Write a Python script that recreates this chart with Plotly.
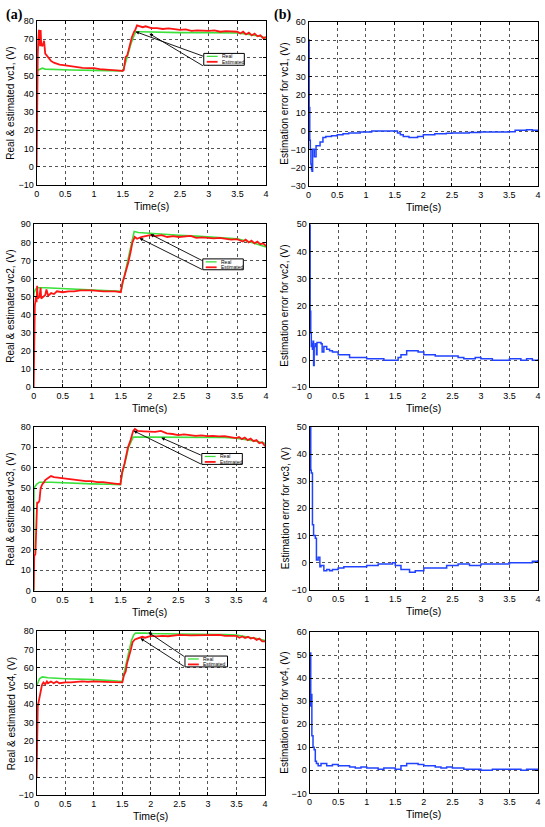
import plotly.graph_objects as go

# ---------------- data (time s, volts) ----------------
vc1_real = [(0,51),(0.005,52),(0.03,53),(0.1,54),(0.15,53.5),(0.3,53.3),(0.6,53),(1.0,52.8),(1.3,52.5),(1.5,52.5),
            (1.55,57),(1.6,63),(1.65,68),(1.7,72),(1.73,74),(1.8,74),(2.0,73.8),(2.5,73.5),(3.0,73.5),(3.5,73.3),
            (3.7,72.5),(3.9,71.5),(4.0,70.5)]
vc1_est = [(0,0),(0.01,45),(0.02,62),(0.03,70),(0.04,75),(0.05,72),(0.06,66),(0.07,75),(0.08,67),(0.1,66),(0.12,68),
           (0.13,69),(0.15,62),(0.2,60),(0.25,58),(0.3,57),(0.4,56),(0.5,55.5),(0.6,55),(0.7,54.5),(0.8,54.2),(0.9,54),
           (1.0,54),(1.1,53.5),(1.2,53.2),(1.3,53),(1.4,53),(1.5,52.5),(1.52,53),(1.55,60),(1.58,61),(1.6,64),(1.63,67),
           (1.66,71),(1.7,74),(1.72,75),(1.75,77.5),(1.8,77),(1.85,76.5),(1.9,77),(2.0,76),(2.1,76),(2.2,75.5),(2.3,75.8),
           (2.4,75.5),(2.5,75),(2.6,75.3),(2.7,74.5),(2.8,74.8),(2.9,74.5),(3.0,74.5),(3.1,74.8),(3.2,74),(3.3,74.3),
           (3.4,74),(3.5,74),(3.55,73),(3.6,74),(3.65,72.5),(3.7,73.5),(3.75,72),(3.8,73),(3.85,71.5),(3.9,72),
           (3.95,70.5),(4.0,71)]
vc2_real = [(0,50),(0.005,52),(0.03,54),(0.06,55),(0.2,55),(0.5,54.5),(0.8,54),(1.0,53.5),(1.3,53),(1.5,53),(1.53,57),
            (1.57,63),(1.62,70),(1.66,77),(1.7,83),(1.73,86),(1.8,85.5),(2.0,85),(2.3,84.3),(2.5,84),(2.8,83.5),(3.0,83),
            (3.3,82.5),(3.5,82),(3.7,80.5),(3.85,79),(4.0,77.5)]
vc2_est = [(0,0),(0.01,35),(0.02,45),(0.04,50),(0.05,47),(0.06,56),(0.07,49),(0.1,50),(0.12,55),(0.13,49),(0.17,50),
           (0.2,51),(0.22,54),(0.25,50.5),(0.3,52),(0.35,51.5),(0.4,53),(0.5,52.5),(0.6,53),(0.7,53),(0.8,53.5),(1.0,53.5),
           (1.2,53),(1.4,53),(1.5,52.5),(1.53,58),(1.56,61),(1.6,65),(1.63,69),(1.67,75),(1.7,80),(1.74,83),(1.78,82),
           (1.85,83),(2.0,84),(2.1,83.5),(2.2,84),(2.3,83),(2.4,83.5),(2.5,83),(2.6,83.3),(2.7,83.6),(2.8,82.5),(2.9,82.8),
           (3.0,82.5),(3.1,82.2),(3.2,82.5),(3.3,82),(3.4,81.5),(3.5,81.8),(3.6,80.5),(3.65,81.5),(3.7,80),(3.75,81),
           (3.8,79.5),(3.85,80.5),(3.9,79),(3.95,79.5),(4.0,78)]
vc3_real = [(0,0),(0.005,50),(0.05,52),(0.1,53),(0.3,53),(0.6,52.5),(1.0,52.2),(1.3,52),(1.5,51.8),(1.53,57),(1.57,61),
            (1.6,65),(1.64,70),(1.68,73),(1.72,75),(2.0,75),(2.5,75),(3.0,75),(3.3,74.8),(3.5,74.5),(3.7,73.8),(3.85,73),
            (4.0,72)]
vc3_est = [(0,0),(0.01,17),(0.03,18),(0.05,35),(0.06,43),(0.08,43),(0.1,44),(0.12,50),(0.15,52),(0.18,53),(0.2,54),
           (0.25,55),(0.3,56),(0.35,55.5),(0.4,55.3),(0.5,55),(0.6,54.5),(0.7,54.2),(0.8,54),(0.9,53.5),(1.0,53.5),
           (1.1,53),(1.2,53),(1.3,52.5),(1.4,52.3),(1.5,52),(1.53,58),(1.57,62),(1.6,66),(1.63,70),(1.67,73),(1.72,78),
           (1.75,79),(1.8,78),(1.9,77.8),(2.0,77.5),(2.1,77.5),(2.2,78),(2.3,76.8),(2.4,76.5),(2.5,76),(2.6,76.3),(2.7,76),
           (2.8,75.6),(2.9,75.8),(3.0,75.5),(3.1,75.6),(3.2,75.3),(3.3,75.5),(3.4,75),(3.5,74.5),(3.55,75),(3.6,74),
           (3.65,74.8),(3.7,73.5),(3.75,74.3),(3.8,73),(3.85,73.5),(3.9,72),(3.95,72.5),(4.0,70.5)]
vc4_real = [(0,50),(0.05,54),(0.1,55),(0.2,54.5),(0.5,54),(0.8,53.8),(1.0,53.5),(1.3,53),(1.5,52.5),(1.53,57),(1.57,63),
            (1.62,70),(1.66,75),(1.7,78),(1.73,79),(1.9,79),(2.0,78.8),(2.5,78.5),(3.0,78.5),(3.3,78.2),(3.5,78),(3.7,77),
            (3.85,76),(4.0,75)]
vc4_est = [(0,0),(0.01,25),(0.02,39),(0.04,42),(0.05,44),(0.07,46),(0.09,50),(0.1,51),(0.12,52),(0.15,51),(0.18,52.5),
           (0.2,51.5),(0.25,52.5),(0.3,51.5),(0.35,52.5),(0.4,51.5),(0.5,52),(0.6,52),(0.7,52.3),(0.8,52.5),(0.9,52.3),
           (1.0,52.5),(1.2,52.3),(1.4,52),(1.5,52),(1.53,56),(1.56,58),(1.58,62),(1.62,66),(1.65,70),(1.68,74),(1.72,75.5),
           (1.76,76),(1.8,76.5),(1.85,77),(1.9,76.5),(2.0,77.5),(2.1,77.2),(2.2,77.5),(2.3,77.3),(2.5,78),(2.7,77.8),
           (2.9,78),(3.0,78),(3.1,77.8),(3.2,78),(3.3,77.5),(3.4,77.7),(3.5,77.5),(3.55,76.5),(3.6,77.2),(3.65,76.3),
           (3.7,77),(3.75,76),(3.8,76.5),(3.85,75.3),(3.9,76),(3.95,74.5),(4.0,74.5)]

err1 = [(0,50),(0.01,13),(0.02,-5),(0.03,-10),(0.04,-18),(0.05,-21),(0.06,-22),(0.07,-10),(0.09,-10),(0.1,-14),
        (0.12,-14),(0.13,-8),(0.16,-8),(0.2,-6),(0.25,-3.5),(0.3,-3),(0.4,-2.5),(0.5,-2),(0.6,-1.5),(0.7,-1),(0.8,-1),
        (0.9,-0.5),(1.0,-0.5),(1.1,0),(1.3,0),(1.5,0),(1.55,-1),(1.6,-2),(1.65,-3),(1.75,-3.5),(1.85,-3.5),(1.9,-3),
        (2.0,-2),(2.1,-2),(2.2,-1.5),(2.4,-1.2),(2.5,-1),(2.7,-1),(2.8,-0.8),(3.0,-0.5),(3.3,-0.5),(3.5,-0.3),(3.6,0.5),
        (3.8,0.8),(3.9,0.5),(4.0,0.3)]
err2 = [(0,50),(0.01,18),(0.02,10),(0.03,5),(0.04,6),(0.05,4),(0.06,7),(0.07,-2),(0.08,5),(0.1,6),(0.12,2),(0.13,6.5),
        (0.2,6),(0.22,3),(0.25,5),(0.3,4),(0.35,3.5),(0.4,3),(0.5,2),(0.6,2),(0.7,1),(0.9,1),(1.0,0.5),(1.2,0.5),(1.3,0),
        (1.5,0),(1.55,1),(1.6,2),(1.7,3.5),(1.8,3.5),(1.9,3),(2.0,2),(2.2,1.5),(2.5,1.5),(2.6,1),(2.7,0.5),(2.9,1),
        (3.0,0.5),(3.2,0),(3.5,0.5),(3.7,0),(3.8,0.5),(3.9,0),(4.0,0.3)]
err3 = [(0,50),(0.02,34),(0.03,33),(0.05,14),(0.07,10),(0.1,9),(0.12,1),(0.15,2),(0.18,-1.5),(0.2,-1),(0.25,-3),
        (0.3,-2.5),(0.35,-3),(0.4,-2.5),(0.5,-2),(0.6,-1.5),(0.8,-1.5),(1.0,-1),(1.2,-0.5),(1.4,-0.5),(1.45,0),(1.5,-1),
        (1.6,-2.5),(1.75,-3.5),(1.85,-3),(2.0,-2),(2.2,-2),(2.4,-1),(2.6,-0.5),(2.8,-1),(3.0,-0.5),(3.3,-0.5),(3.5,0),
        (3.7,0),(3.9,0.5),(4.0,1)]
err4 = [(0,50),(0.01,51),(0.02,28),(0.03,33),(0.04,15),(0.06,10),(0.08,9),(0.1,4),(0.12,3),(0.15,2),(0.2,3),(0.3,2),
        (0.4,2.5),(0.5,2),(0.6,2),(0.7,1.5),(0.8,1),(0.9,1.5),(1.0,1),(1.2,0.5),(1.3,1),(1.5,0.5),(1.6,2),(1.7,3),
        (1.8,3),(1.9,2.5),(2.0,2),(2.2,1.5),(2.3,1),(2.4,1.5),(2.5,1),(2.7,0.5),(2.9,0.5),(3.0,0),(3.2,0.5),(3.5,0.5),
        (3.7,0),(3.8,0.5),(4.0,0)]

x_ticks = [0, 0.5, 1, 1.5, 2, 2.5, 3, 3.5, 4]
x_tick_text = ["0", "0.5", "1", "1.5", "2", "2.5", "3", "3.5", "4"]
left_titles = ["Real & estimated vc1, (V)", "Real & estimated vc2, (V)",
               "Real & estimated vc3, (V)", "Real & estimated vc4, (V)"]
right_titles = ["Estimation error for vc1, (V)", "Estimation error for vc2, (V)",
                "Estimation error for vc3, (V)", "Estimation error for vc4, (V)"]
left_ranges = [(-10, 80), (0, 90), (0, 80), (-10, 80)]
right_ranges = [(-30, 60), (-10, 50), (-10, 50), (-10, 60)]
legend_labels = ["Real", "Estimated"]
panel_labels = ["(a)", "(b)"]

# ---------------- layout geometry (pixels) ----------------
W, H = 545, 827
left_px = [(34, 266, 16, 182), (31, 266, 222, 387), (31, 265, 427, 593), (34, 265, 634, 800)]
right_px = [(309, 541, 17, 183), (310, 541, 222, 387), (310, 541, 427, 592), (310, 541, 635, 798)]
legend_px = [(203, 244, 49, 61), (202, 243, 257, 268), (201, 242, 454, 465), (184, 227, 659, 670)]
arrows_px = [[((134, 27), (203, 52)), ((148, 29), (203, 62))],
             [((149, 232), (202, 259)), ((138, 236), (202, 268))],
             [((160, 438), (201, 456)), ((132, 431), (201, 465))],
             [((147, 635), (184, 660)), ((139, 641), (184, 670))]]

GREEN = "#3be03b"
RED = "#ff1414"
BLUE = "#2143ff"
FONT = "Liberation Sans, Arial, sans-serif"


def px(x):
    return x / W


def py(y):
    return 1 - y / H


fig = go.Figure()
layout = dict(width=W, height=H, margin=dict(l=0, r=0, t=0, b=0),
              paper_bgcolor="white", plot_bgcolor="white", showlegend=False,
              font=dict(family=FONT, size=9, color="black"))
annotations = []
shapes = []

lefts = [(vc1_real, vc1_est), (vc2_real, vc2_est), (vc3_real, vc3_est), (vc4_real, vc4_est)]
errs = [err1, err2, err3, err4]


def axis_style(dom, rng, dtick, anchor, is_x):
    d = dict(domain=dom, range=list(rng), anchor=anchor, showline=True, linecolor="black",
             linewidth=1, mirror="ticks", ticks="inside", ticklen=3, tickcolor="black",
             showgrid=True, gridcolor="#555555", griddash="dot", gridwidth=1, zeroline=False,
             ticklabeloverflow="allow",
             tickfont=dict(family=FONT, size=9, color="black"))
    if is_x:
        d.update(tickmode="array", tickvals=x_ticks, ticktext=x_tick_text)
    else:
        d.update(dtick=dtick, tick0=0)
    return d


for r in range(4):
    for c in range(2):
        k = 2 * r + c + 1
        xa = "x" if k == 1 else f"x{k}"
        ya = "y" if k == 1 else f"y{k}"
        xname = "xaxis" if k == 1 else f"xaxis{k}"
        yname = "yaxis" if k == 1 else f"yaxis{k}"
        x0, x1, y0, y1 = (left_px if c == 0 else right_px)[r]
        rng = (left_ranges if c == 0 else right_ranges)[r]
        layout[xname] = axis_style([px(x0), px(x1)], (0, 4), 0.5, ya, True)
        layout[yname] = axis_style([py(y1), py(y0)], rng, 10, xa, False)
        if c == 0:
            real, est = lefts[r]
            fig.add_trace(go.Scatter(x=[p[0] for p in real], y=[p[1] for p in real], mode="lines",
                                     line=dict(color=GREEN, width=1.6), xaxis=xa, yaxis=ya, name="Real"))
            fig.add_trace(go.Scatter(x=[p[0] for p in est], y=[p[1] for p in est], mode="lines",
                                     line=dict(color=RED, width=1.8), xaxis=xa, yaxis=ya, name="Estimated"))
        else:
            e = errs[r]
            fig.add_trace(go.Scatter(x=[p[0] for p in e], y=[p[1] for p in e], mode="lines",
                                     line=dict(color=BLUE, width=1.5, shape="hv"), xaxis=xa, yaxis=ya))
        # titles
        title = (left_titles if c == 0 else right_titles)[r]
        tx = 8 if c == 0 else 285
        annotations.append(dict(x=px(tx), y=py((y0 + y1) / 2), xref="paper", yref="paper",
                                text=title, textangle=-90, showarrow=False,
                                font=dict(family=FONT, size=10, color="black"),
                                xanchor="center", yanchor="middle"))
        annotations.append(dict(x=px((x0 + x1) / 2), y=py(y1 + 21), xref="paper", yref="paper",
                                text="Time(s)", showarrow=False,
                                font=dict(family=FONT, size=10.5, color="black"),
                                xanchor="center", yanchor="middle"))

# legends and arrows on the left panels
for r in range(4):
    lx0, lx1, ly0, ly1 = legend_px[r]
    shapes.append(dict(type="rect", xref="paper", yref="paper", x0=px(lx0), x1=px(lx1),
                       y0=py(ly1), y1=py(ly0), line=dict(color="black", width=1), fillcolor="white"))
    rows = [ly0 + 3, ly0 + 8.5]
    for i, col in enumerate([GREEN, RED]):
        shapes.append(dict(type="line", xref="paper", yref="paper", x0=px(lx0 + 3), x1=px(lx0 + 14),
                           y0=py(rows[i]), y1=py(rows[i]), line=dict(color=col, width=1.3 if i == 0 else 1.8)))
        annotations.append(dict(x=px(lx0 + 16), y=py(rows[i]), xref="paper", yref="paper",
                                text=legend_labels[i], showarrow=False, xanchor="left", yanchor="middle",
                                font=dict(family=FONT, size=5, color="black")))
    for (hx, hy), (tx_, ty_) in arrows_px[r]:
        annotations.append(dict(x=px(hx), y=py(hy), xref="paper", yref="paper", text="",
                                showarrow=True, ax=tx_ - hx, ay=ty_ - hy, axref="pixel", ayref="pixel",
                                arrowhead=2, arrowsize=0.8, arrowwidth=0.9, arrowcolor="black"))

for i, lab in enumerate(panel_labels):
    annotations.append(dict(x=px(1 if i == 0 else 272), y=py(10), xref="paper", yref="paper",
                            text=f"<b>{lab}</b>", showarrow=False, xanchor="left", yanchor="middle",
                            font=dict(family="Liberation Serif, Times New Roman, serif", size=14,
                                      color="black")))

layout["annotations"] = annotations
layout["shapes"] = shapes
fig.update_layout(**layout)
fig.write_html("out.html", config={"displayModeBar": False},
               post_script="document.body.style.margin='0';document.body.style.overflow='hidden';")
